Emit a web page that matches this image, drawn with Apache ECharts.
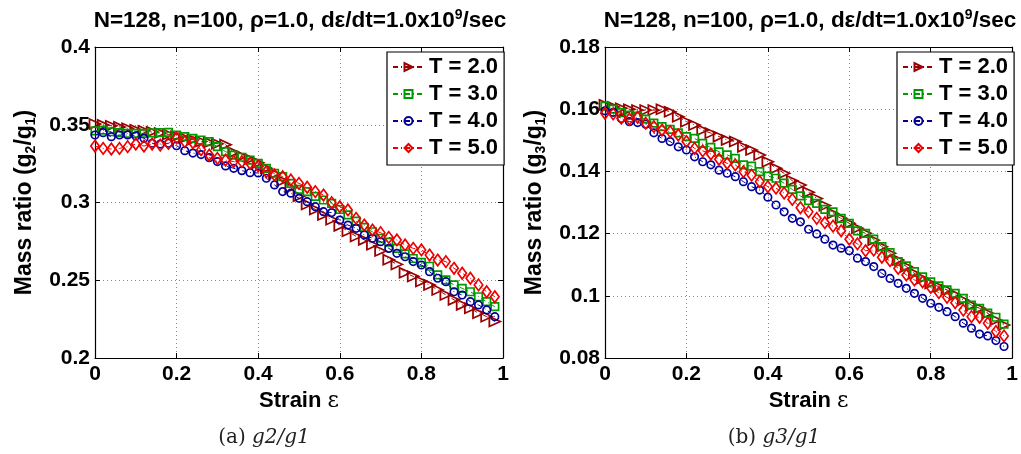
<!DOCTYPE html>
<html><head><meta charset="utf-8">
<script src="https://cdn.jsdelivr.net/npm/echarts@6/dist/echarts.min.js"></script>
<style>html,body{margin:0;padding:0;background:#fff}#c{width:1021px;height:454px}</style>
</head><body><div id="c"></div>
<script>
// ---------- data ----------
const strain = [0.00,0.02,0.04,0.06,0.08,0.10,0.12,0.14,0.16,0.18,0.20,0.22,0.24,0.26,0.28,0.30,0.32,0.34,0.36,0.38,0.40,0.42,0.44,0.46,0.48,0.50,0.52,0.54,0.56,0.58,0.60,0.62,0.64,0.66,0.68,0.70,0.72,0.74,0.76,0.78,0.80,0.82,0.84,0.86,0.88,0.90,0.92,0.94,0.96,0.98];
const legendNames = ['T = 2.0','T = 3.0','T = 4.0','T = 5.0'];
const titleMain = 'N=128, n=100, \u03C1=1.0, d\u03B5/dt=1.0x10';
const titleSup = '9';
const titleTail = '/sec';

// panel (a): g2/g1
const g21_T2 = [0.3505,0.3499,0.3493,0.3486,0.3477,0.3468,0.3461,0.3455,0.3447,0.3438,0.3425,0.3415,0.3404,0.3393,0.3386,0.3378,0.3372,0.3322,0.3298,0.3280,0.3255,0.3220,0.3185,0.3140,0.3095,0.3040,0.2988,0.2955,0.2920,0.2890,0.2850,0.2815,0.2782,0.2760,0.2728,0.2688,0.2632,0.2602,0.2548,0.2525,0.2492,0.2470,0.2438,0.2406,0.2374,0.2342,0.2320,0.2288,0.2266,0.2235];
const g21_T3 = [0.3460,0.3465,0.3455,0.3450,0.3445,0.3445,0.3445,0.3448,0.3449,0.3451,0.3434,0.3423,0.3412,0.3402,0.3391,0.3359,0.3327,0.3305,0.3291,0.3273,0.3252,0.3220,0.3188,0.3166,0.3123,0.3085,0.3070,0.3040,0.3016,0.2995,0.2955,0.2920,0.2880,0.2840,0.2812,0.2770,0.2745,0.2705,0.2670,0.2640,0.2615,0.2590,0.2534,0.2502,0.2470,0.2448,0.2426,0.2394,0.2362,0.2330];
const g21_T4 = [0.3434,0.3449,0.3423,0.3434,0.3434,0.3428,0.3413,0.3381,0.3376,0.3381,0.3365,0.3333,0.3318,0.3308,0.3288,0.3263,0.3235,0.3220,0.3205,0.3192,0.3190,0.3156,0.3113,0.3070,0.3060,0.3027,0.3005,0.2973,0.2941,0.2935,0.2887,0.2855,0.2834,0.2791,0.2770,0.2748,0.2705,0.2673,0.2651,0.2620,0.2598,0.2555,0.2513,0.2491,0.2426,0.2405,0.2362,0.2341,0.2309,0.2266];
const g21_T5 = [0.3363,0.3348,0.3344,0.3348,0.3359,0.3376,0.3363,0.3376,0.3369,0.3380,0.3415,0.3391,0.3385,0.3340,0.3305,0.3284,0.3273,0.3263,0.3263,0.3252,0.3235,0.3198,0.3177,0.3166,0.3145,0.3123,0.3098,0.3070,0.3048,0.2999,0.2973,0.2952,0.2898,0.2855,0.2823,0.2806,0.2776,0.2759,0.2727,0.2705,0.2695,0.2662,0.2630,0.2620,0.2577,0.2545,0.2513,0.2470,0.2426,0.2394];

// panel (b): g3/g1
const g31_T2 = [0.1614,0.1608,0.1603,0.1600,0.1597,0.1597,0.1597,0.1600,0.1592,0.1576,0.1560,0.1549,0.1533,0.1523,0.1512,0.1501,0.1496,0.1479,0.1469,0.1453,0.1431,0.1410,0.1394,0.1370,0.1356,0.1333,0.1313,0.1290,0.1265,0.1249,0.1233,0.1217,0.1201,0.1179,0.1158,0.1137,0.1115,0.1094,0.1072,0.1056,0.1040,0.1029,0.1019,0.1003,0.0986,0.0970,0.0960,0.0944,0.0922,0.0906];
const g31_T3 = [0.1610,0.1600,0.1589,0.1581,0.1578,0.1568,0.1555,0.1544,0.1535,0.1524,0.1512,0.1506,0.1490,0.1477,0.1463,0.1453,0.1442,0.1421,0.1417,0.1399,0.1385,0.1378,0.1362,0.1342,0.1321,0.1306,0.1297,0.1278,0.1270,0.1249,0.1233,0.1209,0.1201,0.1182,0.1158,0.1139,0.1110,0.1096,0.1078,0.1061,0.1045,0.1032,0.1019,0.1008,0.0992,0.0970,0.0960,0.0944,0.0931,0.0909];
const g31_T4 = [0.1595,0.1590,0.1570,0.1560,0.1557,0.1552,0.1524,0.1506,0.1496,0.1479,0.1469,0.1447,0.1431,0.1421,0.1404,0.1394,0.1383,0.1367,0.1351,0.1340,0.1317,0.1292,0.1270,0.1249,0.1238,0.1214,0.1199,0.1182,0.1163,0.1153,0.1145,0.1121,0.1110,0.1094,0.1072,0.1056,0.1040,0.1024,0.1008,0.0992,0.0976,0.0963,0.0949,0.0933,0.0912,0.0896,0.0877,0.0871,0.0856,0.0837];
const g31_T5 = [0.1587,0.1585,0.1571,0.1568,0.1574,0.1555,0.1544,0.1533,0.1528,0.1517,0.1496,0.1474,0.1466,0.1456,0.1439,0.1426,0.1421,0.1399,0.1388,0.1367,0.1351,0.1346,0.1330,0.1310,0.1283,0.1270,0.1249,0.1235,0.1224,0.1209,0.1182,0.1167,0.1145,0.1147,0.1124,0.1113,0.1088,0.1067,0.1051,0.1045,0.1027,0.1010,0.0995,0.0978,0.0954,0.0933,0.0931,0.0912,0.0885,0.0871];

// ---------- styling ----------
const F = '"Liberation Sans", Arial, Helvetica, sans-serif';
const SERIF = '"DejaVu Serif", serif';
const colors = ['#990000','#009900','#000099','#ee0000'];
const symbols = [
  {symbol:'triangle', symbolSize:[10,11], symbolRotate:-90},
  {symbol:'rect', symbolSize:7.5, symbolRotate:0},
  {symbol:'circle', symbolSize:7.5, symbolRotate:0},
  {symbol:'diamond', symbolSize:[8.5,11.5], symbolRotate:0}
];
const panels = [
  {data:[g21_T2,g21_T3,g21_T4,g21_T5], ymin:0.2, ymax:0.4, yint:0.05, sub:'2', cap:'(a) ', capIt:'g2/g1', left:95, right:518, legendLeft:387, capX:259},
  {data:[g31_T2,g31_T3,g31_T4,g31_T5], ymin:0.08, ymax:0.18, yint:0.02, sub:'3', cap:'(b) ', capIt:'g3/g1', left:605, right:8, legendLeft:897, capX:769}
];

const grids=[], xAxes=[], yAxes=[], series=[], legends=[], titles=[];
const axisLineStyle = {color:'#000', width:1.2};
panels.forEach((p, gi) => {
  grids.push({left:p.left, right:p.right, top:47, bottom:96, containLabel:false});
  const plotCenter = p.left + (1021 - p.left - p.right)/2;
  xAxes.push({
    type:'value', gridIndex:gi, min:0, max:1, interval:0.2, position:'bottom',
    name:'{a|Strain }{e|\u03B5}', nameLocation:'middle', nameGap:27,
    nameTextStyle:{rich:{a:{fontFamily:F,fontWeight:'bold',fontSize:22,color:'#000'},e:{fontFamily:SERIF,fontSize:22,color:'#000'}}},
    axisLine:{onZero:false, lineStyle:axisLineStyle},
    axisTick:{inside:true, length:5, lineStyle:{color:'#000'}},
    axisLabel:{margin:6, fontFamily:F, fontWeight:'bold', fontSize:21, color:'#000', formatter: v => String(+v.toFixed(2))},
    splitLine:{show:true, lineStyle:{color:'#888', width:1, type:[1,3]}}
  });
  xAxes.push({
    type:'value', gridIndex:gi, min:0, max:1, interval:0.2, position:'top',
    axisLine:{onZero:false, lineStyle:axisLineStyle},
    axisTick:{inside:true, length:5, lineStyle:{color:'#000'}},
    axisLabel:{show:false}, splitLine:{show:false}
  });
  yAxes.push({
    type:'value', gridIndex:gi, min:p.ymin, max:p.ymax, interval:p.yint, position:'left',
    name:'{a|Mass ratio (g}{s|'+p.sub+'}{a|/g}{s|1}{a|)}', nameLocation:'middle', nameGap:57,
    nameTextStyle:{rich:{a:{fontFamily:F,fontWeight:'bold',fontSize:23,color:'#000'},s:{fontFamily:F,fontWeight:'bold',fontSize:14,color:'#000',padding:[12,0,0,0]}}},
    axisLine:{onZero:false, lineStyle:axisLineStyle},
    axisTick:{inside:true, length:5, lineStyle:{color:'#000'}},
    axisLabel:{margin:5, fontFamily:F, fontWeight:'bold', fontSize:21, color:'#000', formatter: v => String(+v.toFixed(3))},
    splitLine:{show:true, lineStyle:{color:'#888', width:1, type:[1,3]}}
  });
  yAxes.push({
    type:'value', gridIndex:gi, min:p.ymin, max:p.ymax, interval:p.yint, position:'right',
    axisLine:{onZero:false, lineStyle:axisLineStyle},
    axisTick:{inside:true, length:5, lineStyle:{color:'#000'}},
    axisLabel:{show:false}, splitLine:{show:false}
  });
  p.data.forEach((vals, si) => {
    series.push({
      type:'line', name:legendNames[si], xAxisIndex:gi*2, yAxisIndex:gi*2,
      data: strain.map((x,i)=>[x, vals[i]]),
      symbol:symbols[si].symbol, symbolSize:symbols[si].symbolSize, symbolRotate:symbols[si].symbolRotate,
      showAllSymbol:true,
      lineStyle:{color:colors[si], width:1, type:[5,3,1,3]},
      itemStyle:{color:'rgba(255,255,255,0)', borderColor:colors[si], borderWidth:1.7},
      emphasis:{disabled:true}, z:2+si
    });
  });
  legends.push({
    data:legendNames, orient:'vertical', left:p.legendLeft, top:52,
    backgroundColor:'#fff', borderColor:'#000', borderWidth:1.2,
    padding:[4,6,6,5], itemGap:5, itemWidth:31, itemHeight:10,
    textStyle:{fontFamily:F, fontWeight:'bold', fontSize:22, color:'#000', lineHeight:22},
    selectedMode:false
  });
  titles.push({
    text:'{a|'+titleMain+'}{s|'+titleSup+'}{a|'+titleTail+'}',
    left:plotCenter-4, top:3, textAlign:'center',
    textStyle:{rich:{a:{fontFamily:F,fontWeight:'bold',fontSize:22.5,color:'#000'},s:{fontFamily:F,fontWeight:'bold',fontSize:14,color:'#000',padding:[0,0,12,0]}}}
  });
  titles.push({
    text:'{r|'+p.cap+'}{i|'+p.capIt+'}',
    left:p.capX, top:423, textAlign:'center',
    textStyle:{fontWeight:'normal', rich:{r:{fontFamily:SERIF,fontWeight:'normal',fontSize:20,color:'#222'},i:{fontFamily:SERIF,fontWeight:'normal',fontStyle:'italic',fontSize:20,color:'#222'}}}
  });
});

const chart = echarts.init(document.getElementById('c'), null, {renderer:'canvas'});
chart.setOption({
  animation:false, backgroundColor:'#fff',
  title:titles, grid:grids, xAxis:xAxes, yAxis:yAxes, legend:legends, series:series
});
</script></body></html>
